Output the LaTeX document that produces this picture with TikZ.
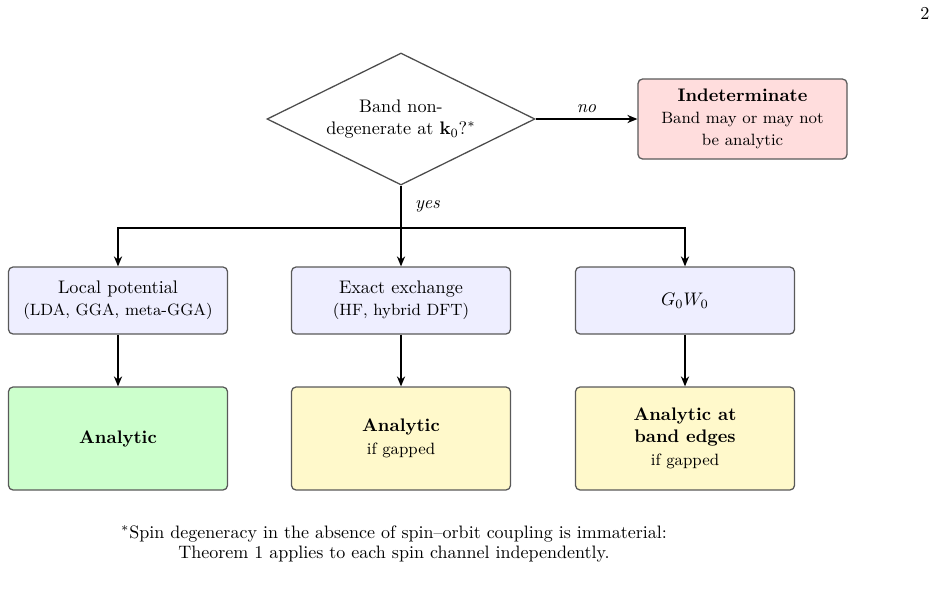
\documentclass[tikz,border=0pt]{standalone}
\usetikzlibrary{shapes.geometric,arrows.meta}
\definecolor{procfill}{HTML}{EEEEFF}
\definecolor{goodfill}{HTML}{CCFFCC}
\definecolor{condfill}{HTML}{FFF9CB}
\definecolor{badfill}{HTML}{FFDDDD}
\begin{document}
\begin{tikzpicture}[x=0.55pt,y=-0.55pt,
  box/.style={draw=black!65, line width=0.7pt, rounded corners=2.5pt, align=center, inner sep=2pt},
  proc/.style={box, fill=procfill, minimum width=120.45pt, minimum height=36.85pt},
  res/.style={box, minimum width=120.45pt, minimum height=56.65pt},
  arr/.style={-{Stealth[length=5.5pt,width=4.5pt]}, line width=0.8pt},
  lin/.style={line width=0.8pt},
  lbl/.style={font=\itshape}]
\useasboundingbox (0,0) rectangle (941,597);
\node[draw=black!70, line width=0.7pt, diamond, aspect=2, minimum width=147.4pt, minimum height=72.6pt, align=center, inner sep=0pt] (q) at (401,119) {Band non-\\degenerate at $\mathbf{k}_0$?$^*$};
\node[box, fill=badfill, minimum width=114.95pt, minimum height=44pt] (ind) at (742.5,119) {\textbf{Indeterminate}\\{\small Band may or may not}\\{\small be analytic}};
\node[proc] (p1) at (118,300.5) {Local potential\\{\small (LDA, GGA, meta-GGA)}};
\node[proc] (p2) at (401,300.5) {Exact exchange\\{\small (HF, hybrid DFT)}};
\node[proc] (p3) at (685,300.5) {$G_0W_0$};
\node[res, fill=goodfill] (r1) at (118,438.5) {\textbf{Analytic}};
\node[res, fill=condfill] (r2) at (401,438.5) {\textbf{Analytic}\\[1pt]{\small if gapped}};
\node[res, fill=condfill] (r3) at (685,438.5) {\textbf{Analytic at}\\\textbf{band edges}\\[1pt]{\small if gapped}};
\coordinate (split) at (401,228);
\draw[arr] (q.east) -- node[above, lbl]{no} (ind.west);
\draw[lin] (q.south) -- node[right, lbl, xshift=4pt]{yes} (split);
\draw[arr] (split) -- (p2.north);
\draw[arr] (split) -| (p1.north);
\draw[arr] (split) -| (p3.north);
\draw[arr] (p1) -- (r1);
\draw[arr] (p2) -- (r2);
\draw[arr] (p3) -- (r3);
\node[align=center, font=\fontsize{9.9}{11}\selectfont] (fn) at (394,544) {$^*$Spin degeneracy in the absence of spin--orbit coupling is immaterial:\\Theorem 1 applies to each spin channel independently.};
\node (pg) at (925,13) {2};
\end{tikzpicture}
\end{document}
